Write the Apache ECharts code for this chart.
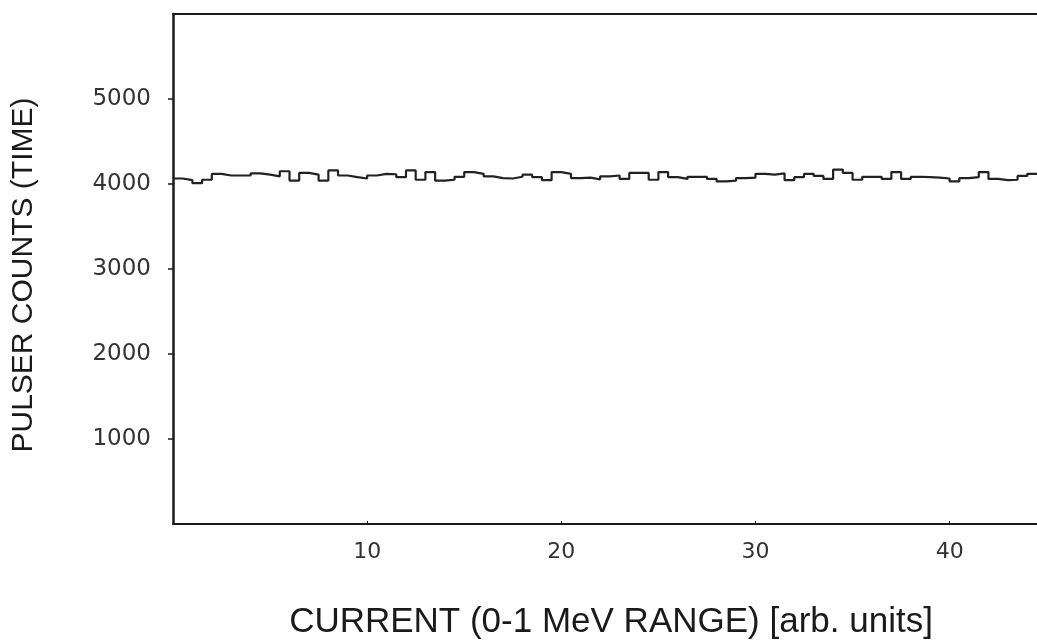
<!DOCTYPE html>
<html>
<head>
<meta charset="utf-8">
<script src="https://cdn.jsdelivr.net/npm/echarts@6/dist/echarts.min.js"></script>
<style>
html,body{margin:0;padding:0;background:#fff;}
#chart{width:1037px;height:642px;}
</style>
</head>
<body>
<div id="chart"></div>
<script>
// Histogram channel width (arb. units) and pulser counts per channel
const binWidth = 0.5;
const counts = [
  4065, 4045, 4010, 4050, 4120, 4100, 4100, 4100, 4125, 4110, 4090, 4150, 4040, 4130, 4110, 4040, 4160, 4100,
  4080, 4065, 4100, 4120, 4115, 4080, 4160, 4050, 4140, 4040, 4050, 4085, 4140, 4120, 4090, 4070, 4065,
  4085, 4110, 4080, 4045, 4140, 4120, 4070, 4075, 4055, 4090, 4100, 4060, 4130, 4130, 4050, 4140, 4080, 4060,
  4085, 4085, 4060, 4030, 4040, 4070, 4075, 4120, 4110, 4125, 4045, 4080, 4120, 4095, 4060, 4170, 4130, 4050,
  4085, 4085, 4060, 4140, 4060, 4085, 4080, 4075, 4065, 4030, 4070, 4080, 4140, 4060, 4045, 4050, 4095, 4120
];
const xTickLabels = ['10', '20', '30', '40'];
const yTickLabels = ['1000', '2000', '3000', '4000', '5000'];
const xTitle = 'CURRENT (0-1 MeV RANGE) [arb. units]';
const yTitle = 'PULSER COUNTS (TIME)';

const seriesData = counts.map((v, i) => [i * binWidth, v]);
seriesData.push([counts.length * binWidth, counts[counts.length - 1]]);
const xMax = counts.length * binWidth;

const font = '"Liberation Sans", Arial, sans-serif';
const tickFont = '"DejaVu Sans", sans-serif';
const ink = '#1a1a1a';

const chart = echarts.init(document.getElementById('chart'), null, {renderer: 'canvas'});
chart.setOption({
  animation: false,
  backgroundColor: '#ffffff',
  grid: {left: 173, right: 0, top: 14, bottom: 118, containLabel: false},
  graphic: [
    {type: 'text', x: 611, y: 622, style: {text: xTitle, font: '35px ' + font, fill: ink, align: 'center', verticalAlign: 'middle'}},
    {type: 'text', x: 24, y: 275, rotation: Math.PI / 2, style: {text: yTitle, font: '30px ' + font, fill: ink, align: 'center', verticalAlign: 'middle'}}
  ],
  xAxis: [{
    type: 'value', min: 0, max: xMax, interval: 10,
    axisLine: {show: true, lineStyle: {color: ink, width: 2}},
    axisTick: {show: true, inside: true, length: 3, lineStyle: {color: ink, width: 1}},
    axisLabel: {
      show: true, margin: 17, fontFamily: tickFont, fontSize: 22, color: '#333',
      showMinLabel: false, showMaxLabel: false,
      formatter: v => xTickLabels.includes(String(v)) ? String(v) : ''
    },
    splitLine: {show: false}
  }, {
    type: 'value', position: 'top', min: 0, max: xMax,
    axisLine: {show: true, onZero: false, lineStyle: {color: ink, width: 2}},
    axisTick: {show: false}, axisLabel: {show: false}, splitLine: {show: false}
  }],
  yAxis: {
    type: 'value', min: 0, max: 6000, interval: 1000,
    axisLine: {show: true, onZero: false, lineStyle: {color: ink, width: 2.5}},
    axisTick: {show: true, inside: false, length: 5, lineStyle: {color: ink, width: 1.5}},
    axisLabel: {
      margin: 22, fontFamily: tickFont, fontSize: 23, color: '#333',
      showMinLabel: false, showMaxLabel: false,
      formatter: v => yTickLabels.includes(String(v)) ? String(v) : ''
    },
    splitLine: {show: false}
  },
  series: [{
    type: 'line', step: 'end', data: seriesData, xAxisIndex: 0,
    symbol: 'none', lineStyle: {color: '#222', width: 2.2}
  }]
});
</script>
</body>
</html>
